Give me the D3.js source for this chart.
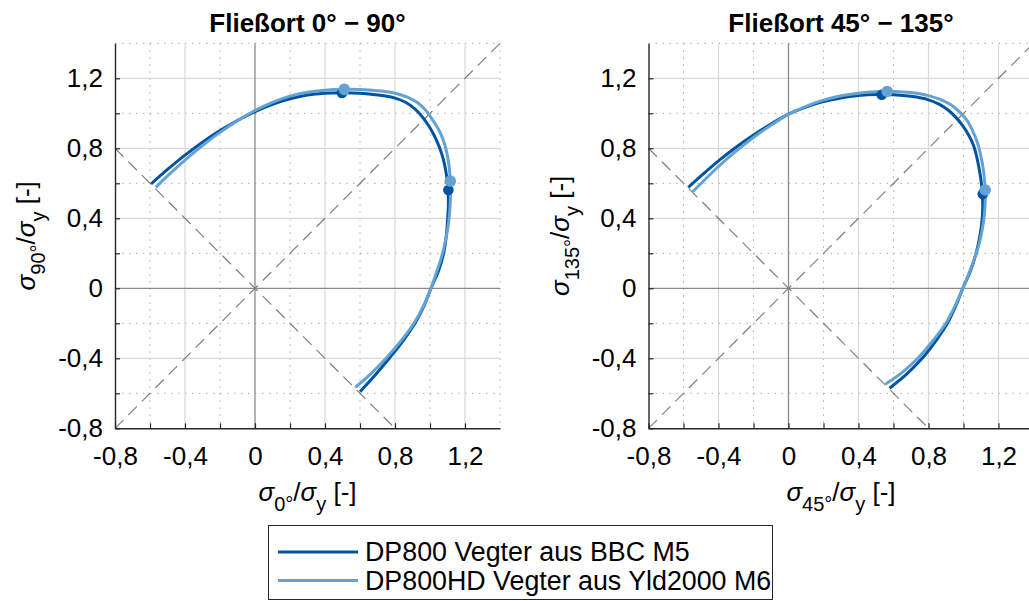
<!DOCTYPE html>
<html><head><meta charset="utf-8">
<script src="https://cdn.jsdelivr.net/npm/d3@7"></script>
<style>body{margin:0;background:#fff} svg{display:block} text{font-family:"Liberation Sans",Arial,sans-serif;fill:#000}</style>
</head><body><svg id="c" width="1029" height="601"></svg>
<script>
// ---------- data ----------
const allTicks = [-0.8,-0.6,-0.4,-0.2,0,0.2,0.4,0.6,0.8,1.0,1.2,1.4];
const majorTicks = [-0.8,-0.4,0,0.4,0.8,1.2];
const majorLabels = ["-0,8","-0,4","0","0,4","0,8","1,2"];
const minorTicks = [-0.6,-0.2,0.2,0.6,1.0,1.4];
const seriesNames = ["DP800 Vegter aus BBC M5","DP800HD Vegter aus Yld2000 M6"];
const panelTitles = ["Fließort 0° \u2212 90°","Fließort 45° \u2212 135°"];
const xSubs = ["0°","45°"];
const ySubs = ["90°","135°"];
const diagLine = [[-0.8,-0.8],[1.4,1.4]];
const antiDiagLine = [[-0.8,0.8],[0.8,-0.8]];

// Fließort 0°-90°
const bbc_0_90 = [[-0.594,0.596],[-0.5,0.679],[-0.4,0.761],[-0.3,0.835],[-0.2,0.901],[-0.1,0.959],[0,1.009],[0.1,1.051],[0.2,1.083],[0.3,1.104],[0.4,1.115],[0.5,1.118],[0.6,1.115],[0.7,1.105],[0.8,1.087],[0.86,1.063],[0.91,1.028],[0.952,0.985],[0.99,0.933],[1.024,0.873],[1.052,0.81],[1.074,0.745],[1.089,0.678],[1.099,0.61],[1.104,0.54],[1.105,0.47],[1.101,0.4],[1.093,0.3],[1.078,0.2],[1.049,0.1],[1.006,0],[0.966,-0.1],[0.914,-0.2],[0.846,-0.3],[0.767,-0.4],[0.683,-0.5],[0.6,-0.591]];
const yld_0_90 = [[-0.566,0.577],[-0.5,0.642],[-0.4,0.733],[-0.3,0.816],[-0.2,0.891],[-0.1,0.958],[0,1.016],[0.1,1.063],[0.2,1.098],[0.3,1.12],[0.4,1.132],[0.5,1.137],[0.6,1.136],[0.7,1.129],[0.8,1.115],[0.87,1.093],[0.93,1.06],[0.975,1.017],[1.015,0.962],[1.053,0.9],[1.078,0.84],[1.096,0.775],[1.108,0.705],[1.115,0.635],[1.117,0.565],[1.116,0.495],[1.111,0.42],[1.101,0.34],[1.086,0.26],[1.066,0.18],[1.04,0.1],[1.006,0],[0.963,-0.1],[0.908,-0.2],[0.835,-0.3],[0.749,-0.4],[0.66,-0.49],[0.573,-0.566]];
const bbcMarks_0_90 = [[0.497,1.116],[1.105,0.562]];
const yldMarks_0_90 = [[0.51,1.137],[1.116,0.613]];

// Fließort 45°-135°
const bbc_45_135 = [[-0.573,0.576],[-0.5,0.642],[-0.4,0.728],[-0.3,0.806],[-0.2,0.876],[-0.1,0.939],[0,0.995],[0.1,1.035],[0.2,1.067],[0.3,1.088],[0.4,1.101],[0.5,1.107],[0.6,1.106],[0.7,1.097],[0.8,1.077],[0.86,1.052],[0.91,1.02],[0.955,0.978],[0.995,0.93],[1.03,0.875],[1.058,0.815],[1.076,0.75],[1.09,0.68],[1.101,0.61],[1.108,0.54],[1.11,0.47],[1.107,0.4],[1.094,0.3],[1.072,0.2],[1.04,0.1],[0.996,0],[0.956,-0.1],[0.908,-0.2],[0.842,-0.3],[0.764,-0.4],[0.675,-0.49],[0.577,-0.571]];
const yld_45_135 = [[-0.549,0.55],[-0.5,0.599],[-0.4,0.696],[-0.3,0.784],[-0.2,0.862],[-0.1,0.932],[0,0.994],[0.1,1.04],[0.2,1.075],[0.3,1.1],[0.4,1.115],[0.5,1.123],[0.6,1.125],[0.7,1.119],[0.8,1.101],[0.87,1.078],[0.93,1.047],[0.977,1.008],[1.02,0.96],[1.052,0.9],[1.077,0.84],[1.096,0.77],[1.11,0.7],[1.119,0.63],[1.124,0.562],[1.124,0.49],[1.118,0.41],[1.106,0.33],[1.088,0.25],[1.066,0.18],[1.037,0.1],[0.996,0],[0.952,-0.1],[0.899,-0.2],[0.825,-0.3],[0.739,-0.4],[0.65,-0.48],[0.553,-0.548]];
const bbcMarks_45_135 = [[0.533,1.106],[1.11,0.539]];
const yldMarks_45_135 = [[0.564,1.125],[1.124,0.562]];

const colors = ["#00549f","#64a2d4"];

// ---------- drawing ----------
const svg = d3.select("#c");
const SIZE = 385, TOP = 43.3;

function drawPanel(ox, idx, seriesA, seriesB, marksA, marksB){
  const x = d3.scaleLinear().domain([-0.8,1.4]).range([0,SIZE]);
  const y = d3.scaleLinear().domain([-0.8,1.4]).range([SIZE,0]);
  const g = svg.append("g").attr("transform",`translate(${ox},${TOP})`);

  // minor dotted grid
  g.selectAll(".mgx").data(minorTicks).join("line")
    .attr("x1",d=>x(d)).attr("x2",d=>x(d)).attr("y1",0).attr("y2",SIZE)
    .attr("stroke","#ababab").attr("stroke-width",1).attr("stroke-dasharray","1.5,5.5");
  g.selectAll(".mgy").data(minorTicks).join("line")
    .attr("y1",d=>y(d)).attr("y2",d=>y(d)).attr("x1",0).attr("x2",SIZE)
    .attr("stroke","#ababab").attr("stroke-width",1).attr("stroke-dasharray","1.5,5.5");
  // major grid
  const majGrid = majorTicks.filter(d=>d!==0 && d!==-0.8);
  g.selectAll(".Mgx").data(majGrid).join("line")
    .attr("x1",d=>x(d)).attr("x2",d=>x(d)).attr("y1",0).attr("y2",SIZE)
    .attr("stroke","#d8d8d8").attr("stroke-width",1.2);
  g.selectAll(".Mgy").data(majGrid).join("line")
    .attr("y1",d=>y(d)).attr("y2",d=>y(d)).attr("x1",0).attr("x2",SIZE)
    .attr("stroke","#d8d8d8").attr("stroke-width",1.2);
  // zero lines
  g.append("line").attr("x1",x(0)).attr("x2",x(0)).attr("y1",0).attr("y2",SIZE)
    .attr("stroke","#8a8a8a").attr("stroke-width",1.3);
  g.append("line").attr("y1",y(0)).attr("y2",y(0)).attr("x1",0).attr("x2",SIZE)
    .attr("stroke","#8a8a8a").attr("stroke-width",1.3);

  // dashed reference lines
  const ln = d3.line().x(d=>x(d[0])).y(d=>y(d[1]));
  [diagLine, antiDiagLine].forEach(dl=>{
    g.append("path").attr("d",ln(dl)).attr("fill","none")
      .attr("stroke","#7f7f7f").attr("stroke-width",1.2).attr("stroke-dasharray","12,7");
  });

  // axes
  const fmt = d => { const i = majorTicks.findIndex(m=>Math.abs(m-d)<1e-9); return i>=0 ? majorLabels[i] : ""; };
  const axTicks = allTicks.filter(d=>d<1.39);
  const xa = g.append("g").attr("transform",`translate(0,${SIZE})`)
    .call(d3.axisBottom(x).tickValues(axTicks).tickFormat(fmt).tickSizeInner(-5).tickSizeOuter(0).tickPadding(18));
  const ya = g.append("g")
    .call(d3.axisLeft(y).tickValues(axTicks).tickFormat(fmt).tickSizeInner(-5).tickSizeOuter(0).tickPadding(12));
  [xa,ya].forEach(a=>{
    a.select(".domain").attr("stroke","#262626").attr("stroke-width",1.4);
    a.selectAll(".tick line").attr("stroke","#262626").attr("stroke-width",1.2);
    a.selectAll(".tick text").attr("font-size",26).attr("font-family","'Liberation Sans',Arial,sans-serif").attr("fill","#000");
  });

  // curves
  const curve = d3.line().x(d=>x(d[0])).y(d=>y(d[1])).curve(d3.curveCatmullRom.alpha(0.5));
  g.append("path").attr("d",curve(seriesA)).attr("fill","none").attr("stroke",colors[0]).attr("stroke-width",3).attr("stroke-linejoin","round");
  g.append("path").attr("d",curve(seriesB)).attr("fill","none").attr("stroke",colors[1]).attr("stroke-width",3).attr("stroke-linejoin","round");
  g.selectAll(".ma").data(marksA).join("circle").attr("cx",d=>x(d[0])).attr("cy",d=>y(d[1])).attr("r",5.3).attr("fill",colors[0]);
  g.selectAll(".mb").data(marksB).join("circle").attr("cx",d=>x(d[0])).attr("cy",d=>y(d[1])).attr("r",5.8).attr("fill",colors[1]);

  // title
  g.append("text").attr("x",SIZE/2).attr("y",32-TOP).attr("text-anchor","middle")
    .attr("font-size",26).attr("font-weight","bold").text(panelTitles[idx]);

  // axis labels
  function label(sel, sub){
    sel.append("tspan").attr("font-style","italic").text("σ");
    sel.append("tspan").attr("font-size",20).attr("dy",10).text(sub);
    sel.append("tspan").attr("dy",-10).text("/");
    sel.append("tspan").attr("font-style","italic").text("σ");
    sel.append("tspan").attr("font-size",20).attr("dy",10).text("y");
    sel.append("tspan").attr("dy",-10).text(" [-]");
  }
  const xl = g.append("text").attr("x",SIZE/2).attr("y",501-TOP).attr("text-anchor","middle").attr("font-size",26);
  label(xl, xSubs[idx]);
  const yl = g.append("text").attr("transform",`translate(-80,${SIZE/2}) rotate(-90)`).attr("text-anchor","middle").attr("font-size",26);
  label(yl, ySubs[idx]);
}

drawPanel(115, 0, bbc_0_90, yld_0_90, bbcMarks_0_90, yldMarks_0_90);
drawPanel(648.5, 1, bbc_45_135, yld_45_135, bbcMarks_45_135, yldMarks_45_135);

// legend
const lg = svg.append("g");
lg.append("rect").attr("x",268.5).attr("y",525.5).attr("width",504).attr("height",74)
  .attr("fill","#fff").attr("stroke","#262626").attr("stroke-width",1);
seriesNames.forEach((n,i)=>{
  const yy = 552 + i*28.5;
  lg.append("line").attr("x1",278).attr("x2",358).attr("y1",yy).attr("y2",yy).attr("stroke",colors[i]).attr("stroke-width",3);
  lg.append("text").attr("x",365).attr("y",yy).attr("dy","0.35em").attr("font-size",26.8).text(n);
});
</script></body></html>
